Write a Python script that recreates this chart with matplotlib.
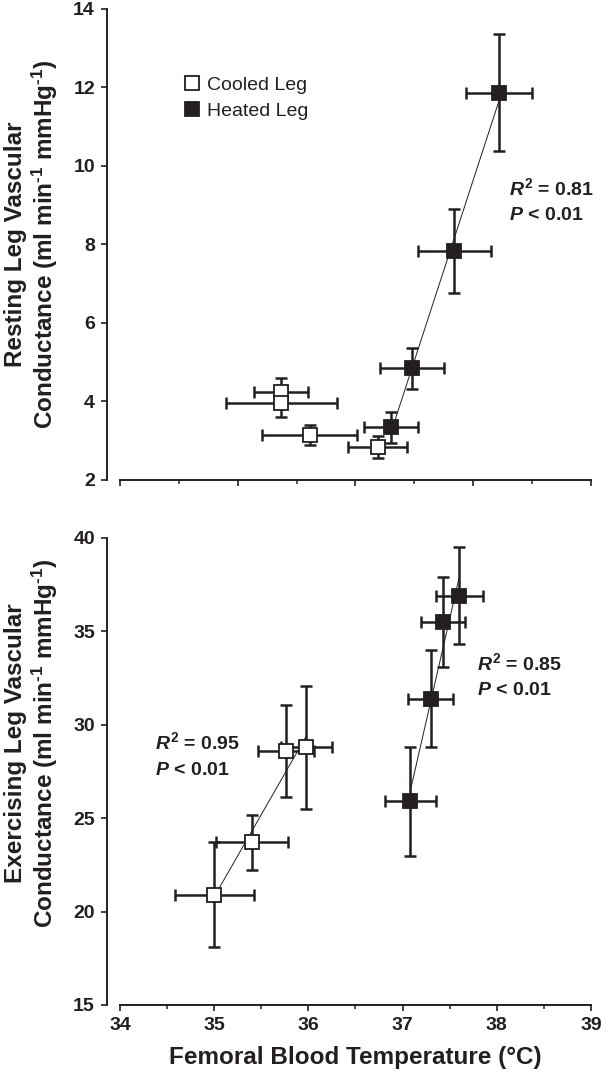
import numpy as np
import matplotlib
matplotlib.use("Agg")
import matplotlib.pyplot as plt

plt.rcParams['font.family'] = ['Liberation Sans', 'DejaVu Sans']
plt.rcParams['mathtext.fontset'] = 'custom'
plt.rcParams['mathtext.rm'] = 'Liberation Sans:bold'
plt.rcParams['mathtext.it'] = 'Liberation Sans:bold:italic'
plt.rcParams['mathtext.bf'] = 'Liberation Sans:bold'

# resting (top panel)
rest_cool_t = [36.37, 36.37, 36.61, 37.19]
rest_cool_t_err = [0.23, 0.47, 0.40, 0.25]
rest_cool_c = [4.25, 3.97, 3.15, 2.85]
rest_cool_c_err = [0.36, 0.37, 0.26, 0.28]
rest_heat_t = [37.30, 37.48, 37.84, 38.22]
rest_heat_t_err = [0.23, 0.27, 0.31, 0.28]
rest_heat_c = [3.34, 4.85, 7.83, 11.87]
rest_heat_c_err = [0.40, 0.52, 1.07, 1.50]

# exercising (bottom panel)
ex_cool_t = [35.00, 35.40, 35.76, 35.98]
ex_cool_t_err = [0.42, 0.38, 0.30, 0.27]
ex_cool_c = [20.9, 23.7, 28.6, 28.8]
ex_cool_c_err = [2.8, 1.45, 2.45, 3.3]
ex_heat_t = [37.08, 37.30, 37.43, 37.60]
ex_heat_t_err = [0.27, 0.24, 0.23, 0.25]
ex_heat_c = [25.9, 31.4, 35.5, 36.9]
ex_heat_c_err = [2.9, 2.6, 2.4, 2.6]

ink = '#231f20'
units = 'Conductance (ml min$^{\\text{-1}}$ mmHg$^{\\text{-1}}$)'

fig = plt.figure(figsize=(6.06, 10.84), dpi=100)
ax1 = fig.add_axes([0.198, 0.5572, 0.7772, 0.4345])
ax2 = fig.add_axes([0.198, 0.0729, 0.7772, 0.4308])


def points(ax, t, t_err, c, c_err, face, label):
    ax.errorbar(t, c, xerr=t_err, yerr=c_err, fmt='none', ecolor=ink,
                elinewidth=1.8, capsize=4.5, capthick=1.8, zorder=2)
    ax.plot(t, c, 's', ms=9.5, mfc=face, mec=ink, mew=1.3, zorder=4,
            label=label)


def fit_line(ax, t, c):
    k, b = np.polyfit(t, c, 1)
    xs = np.array([min(t), max(t)])
    ax.plot(xs, k * xs + b, color=ink, lw=0.7, zorder=3)


points(ax1, rest_cool_t, rest_cool_t_err, rest_cool_c, rest_cool_c_err, 'white', 'Cooled Leg')
points(ax1, rest_heat_t, rest_heat_t_err, rest_heat_c, rest_heat_c_err, ink, 'Heated Leg')
fit_line(ax1, rest_heat_t, rest_heat_c)

points(ax2, ex_cool_t, ex_cool_t_err, ex_cool_c, ex_cool_c_err, 'white', 'Cooled Leg')
points(ax2, ex_heat_t, ex_heat_t_err, ex_heat_c, ex_heat_c_err, ink, 'Heated Leg')
fit_line(ax2, ex_cool_t, ex_cool_c)
fit_line(ax2, ex_heat_t, ex_heat_c)

ax1.set_xlim(35, 39)
ax1.set_ylim(2, 14)
ax1.set_xticks(np.arange(35, 39.1, 1))
ax1.set_xticks(np.arange(35.5, 39, 1), minor=True)
ax1.set_yticks(np.arange(2, 14.1, 2))
ax1.tick_params(axis='x', labelbottom=False)

ax2.set_xlim(34, 39)
ax2.set_ylim(15, 40)
ax2.set_xticks(np.arange(34, 39.1, 1))
ax2.set_xticks(np.arange(34.5, 39, 1), minor=True)
ax2.set_yticks(np.arange(15, 40.1, 5))

for ax in (ax1, ax2):
    ax.spines['top'].set_visible(False)
    ax.spines['right'].set_visible(False)
    ax.spines['left'].set_position(('outward', 9.5))
    for s in ('left', 'bottom'):
        ax.spines[s].set_linewidth(1.4)
        ax.spines[s].set_color(ink)
    ax.tick_params(which='major', direction='out', length=4.5, width=1.2,
                   color=ink, labelsize=14, labelcolor=ink, pad=4)
    ax.tick_params(which='minor', direction='out', length=3, width=1.1, color=ink)
    for lab in ax.get_xticklabels() + ax.get_yticklabels():
        lab.set_fontweight('bold')

ax1.set_ylabel('Resting Leg Vascular\n' + units,
               fontsize=17.5, fontweight='bold', color=ink, linespacing=1.12)
ax1.yaxis.set_label_coords(-0.128, 0.5)
ax2.set_ylabel('Exercising Leg Vascular\n' + units,
               fontsize=17.5, fontweight='bold', color=ink, linespacing=1.12)
ax2.yaxis.set_label_coords(-0.128, 0.56)
ax2.set_xlabel('Femoral Blood Temperature (\u00b0C)', fontsize=17.5,
               fontweight='bold', color=ink, labelpad=9)

ax1.legend(loc='upper left', bbox_to_anchor=(0.132, 0.857), frameon=False,
           fontsize=14, handlelength=1.0, handletextpad=0.3, labelspacing=0.42,
           borderpad=0, borderaxespad=0, numpoints=1, labelcolor=ink)

txt = dict(fontsize=14, fontweight='bold', color=ink, va='baseline')
ax1.text(38.30, 9.25, '$R^2$ = 0.81', **txt)
ax1.text(38.30, 8.62, '$P$ < 0.01', **txt)
ax2.text(37.79, 32.92, '$R^2$ = 0.85', **txt)
ax2.text(37.79, 31.58, '$P$ < 0.01', **txt)
ax2.text(34.37, 28.7, '$R^2$ = 0.95', **txt)
ax2.text(34.37, 27.3, '$P$ < 0.01', **txt)

fig.savefig('out.png', dpi=100)
